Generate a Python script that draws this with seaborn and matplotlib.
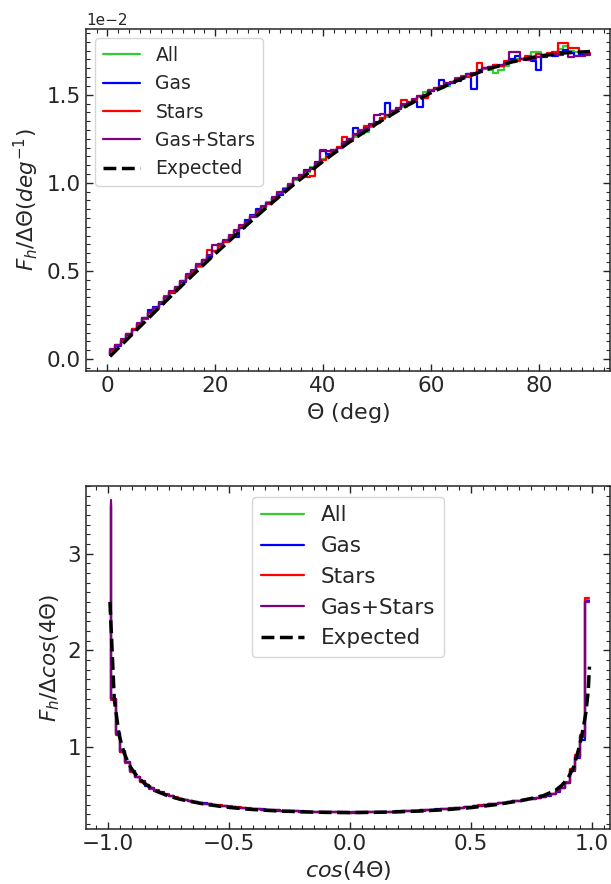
import numpy as np
import pandas as pd
import matplotlib
matplotlib.use("Agg")
import matplotlib.pyplot as plt
import seaborn as sns
from matplotlib.ticker import AutoMinorLocator

sns.set_style("ticks")
plt.rcParams['font.family'] = ['DejaVu Sans']
plt.rcParams['mathtext.fontset'] = 'dejavusans'

# ---------------- data: top panel (units of 1e-2 per degree) ----------------
theta_centers = np.arange(90) + 0.5

theta_all = [0.020, 0.045, 0.078, 0.100, 0.140, 0.165, 0.200, 0.232, 0.262, 0.285,
             0.322, 0.345, 0.380, 0.405, 0.440, 0.462, 0.498, 0.520, 0.552, 0.585,
             0.612, 0.645, 0.668, 0.700, 0.725, 0.748, 0.785, 0.810, 0.835, 0.855,
             0.890, 0.910, 0.935, 0.968, 0.985, 1.015, 1.040, 1.060, 1.090, 1.105,
             1.135, 1.160, 1.175, 1.205, 1.220, 1.240, 1.262, 1.275, 1.290, 1.315,
             1.340, 1.360, 1.375, 1.395, 1.420, 1.430, 1.450, 1.470, 1.485, 1.515,
             1.525, 1.530, 1.540, 1.550, 1.565, 1.585, 1.600, 1.605, 1.620, 1.632,
             1.645, 1.640, 1.625, 1.640, 1.665, 1.690, 1.700, 1.705, 1.715, 1.745,
             1.740, 1.720, 1.725, 1.735, 1.760, 1.775, 1.750, 1.740, 1.735, 1.725]

theta_gas = [0.025, 0.050, 0.075, 0.110, 0.135, 0.170, 0.195, 0.230, 0.280, 0.295,
             0.315, 0.350, 0.375, 0.410, 0.435, 0.470, 0.500, 0.530, 0.560, 0.580,
             0.615, 0.650, 0.672, 0.695, 0.690, 0.745, 0.790, 0.815, 0.850, 0.860,
             0.885, 0.915, 0.930, 0.965, 0.995, 1.020, 1.045, 1.070, 1.085, 1.120,
             1.180, 1.165, 1.180, 1.195, 1.230, 1.250, 1.310, 1.290, 1.300, 1.325,
             1.345, 1.370, 1.455, 1.405, 1.420, 1.440, 1.455, 1.465, 1.430, 1.500,
             1.520, 1.535, 1.585, 1.560, 1.565, 1.580, 1.600, 1.620, 1.530, 1.640,
             1.650, 1.660, 1.670, 1.665, 1.680, 1.700, 1.720, 1.705, 1.700, 1.690,
             1.640, 1.715, 1.730, 1.720, 1.740, 1.755, 1.735, 1.720, 1.725, 1.730]

theta_stars = [0.020, 0.048, 0.080, 0.105, 0.140, 0.170, 0.200, 0.225, 0.262, 0.290,
               0.320, 0.355, 0.382, 0.405, 0.445, 0.470, 0.495, 0.530, 0.560, 0.620,
               0.615, 0.642, 0.665, 0.700, 0.728, 0.755, 0.775, 0.810, 0.830, 0.865,
               0.880, 0.915, 0.945, 0.960, 0.995, 1.020, 1.040, 1.035, 1.040, 1.115,
               1.130, 1.150, 1.185, 1.205, 1.260, 1.240, 1.270, 1.300, 1.320, 1.325,
               1.340, 1.370, 1.385, 1.410, 1.425, 1.470, 1.460, 1.470, 1.490, 1.480,
               1.525, 1.540, 1.545, 1.565, 1.570, 1.595, 1.605, 1.600, 1.610, 1.680,
               1.650, 1.655, 1.670, 1.665, 1.690, 1.685, 1.690, 1.700, 1.720, 1.710,
               1.730, 1.725, 1.735, 1.740, 1.795, 1.795, 1.765, 1.765, 1.740, 1.735]

theta_gasstars = [0.030, 0.055, 0.080, 0.115, 0.140, 0.165, 0.205, 0.230, 0.265, 0.290,
                  0.325, 0.350, 0.385, 0.410, 0.440, 0.480, 0.505, 0.540, 0.560, 0.590,
                  0.645, 0.650, 0.675, 0.705, 0.730, 0.760, 0.780, 0.805, 0.840, 0.870,
                  0.885, 0.920, 0.950, 0.960, 0.990, 1.025, 1.045, 1.065, 1.080, 1.115,
                  1.185, 1.180, 1.185, 1.200, 1.225, 1.250, 1.275, 1.295, 1.310, 1.335,
                  1.385, 1.390, 1.385, 1.410, 1.425, 1.445, 1.455, 1.475, 1.490, 1.500,
                  1.520, 1.540, 1.550, 1.565, 1.570, 1.590, 1.600, 1.615, 1.625, 1.630,
                  1.650, 1.655, 1.660, 1.670, 1.680, 1.745, 1.745, 1.700, 1.695, 1.700,
                  1.715, 1.725, 1.725, 1.730, 1.725, 1.735, 1.715, 1.720, 1.720, 1.725]

theta_exp_x = [0.5, 5, 10, 15, 20, 25, 30, 35, 40, 45, 50, 55, 60, 65, 70, 75, 80, 85, 89.5]
theta_exp_y = [0.015, 0.152, 0.303, 0.452, 0.597, 0.737, 0.873, 1.001, 1.122, 1.234,
               1.337, 1.429, 1.511, 1.582, 1.640, 1.686, 1.719, 1.738, 1.745]

# ---------------- data: bottom panel ----------------
cos_centers = np.linspace(-0.99, 0.99, 100)

cos_all = [3.50, 1.49, 1.13, 0.955, 0.845, 0.745, 0.690, 0.640, 0.600, 0.570,
           0.545, 0.525, 0.505, 0.490, 0.475, 0.460, 0.450, 0.440, 0.430, 0.420,
           0.412, 0.405, 0.398, 0.392, 0.386, 0.380, 0.375, 0.370, 0.365, 0.361,
           0.357, 0.353, 0.350, 0.347, 0.344, 0.341, 0.339, 0.336, 0.334, 0.332,
           0.330, 0.329, 0.327, 0.326, 0.324, 0.323, 0.322, 0.321, 0.320, 0.320,
           0.319, 0.320, 0.320, 0.321, 0.322, 0.323, 0.324, 0.325, 0.327, 0.328,
           0.330, 0.332, 0.334, 0.336, 0.339, 0.341, 0.344, 0.347, 0.350, 0.353,
           0.357, 0.361, 0.365, 0.370, 0.375, 0.380, 0.386, 0.392, 0.398, 0.405,
           0.410, 0.416, 0.422, 0.428, 0.435, 0.442, 0.449, 0.456, 0.464, 0.473,
           0.483, 0.496, 0.514, 0.540, 0.575, 0.630, 0.760, 0.900, 1.110, 2.52]

cos_gas = [3.52, 1.50, 1.14, 0.950, 0.840, 0.750, 0.685, 0.642, 0.598, 0.572,
           0.540, 0.528, 0.503, 0.492, 0.472, 0.462, 0.448, 0.442, 0.428, 0.417,
           0.414, 0.403, 0.399, 0.390, 0.388, 0.378, 0.376, 0.368, 0.366, 0.360,
           0.358, 0.352, 0.351, 0.346, 0.345, 0.340, 0.340, 0.335, 0.335, 0.331,
           0.331, 0.328, 0.328, 0.325, 0.325, 0.322, 0.323, 0.320, 0.321, 0.319,
           0.320, 0.319, 0.321, 0.320, 0.323, 0.322, 0.325, 0.324, 0.328, 0.327,
           0.331, 0.331, 0.335, 0.335, 0.340, 0.340, 0.345, 0.346, 0.351, 0.352,
           0.358, 0.360, 0.366, 0.369, 0.376, 0.379, 0.387, 0.391, 0.399, 0.404,
           0.411, 0.415, 0.423, 0.427, 0.436, 0.441, 0.450, 0.455, 0.465, 0.472,
           0.484, 0.494, 0.516, 0.536, 0.572, 0.625, 0.745, 0.885, 1.070, 2.51]

cos_stars = [3.48, 1.48, 1.12, 0.945, 0.835, 0.740, 0.692, 0.638, 0.602, 0.568,
             0.548, 0.522, 0.507, 0.488, 0.477, 0.458, 0.452, 0.438, 0.432, 0.422,
             0.410, 0.407, 0.396, 0.394, 0.384, 0.382, 0.373, 0.372, 0.363, 0.362,
             0.355, 0.354, 0.348, 0.348, 0.342, 0.342, 0.337, 0.337, 0.332, 0.333,
             0.329, 0.330, 0.326, 0.327, 0.323, 0.324, 0.321, 0.322, 0.319, 0.321,
             0.318, 0.321, 0.319, 0.322, 0.321, 0.324, 0.323, 0.326, 0.326, 0.329,
             0.329, 0.333, 0.333, 0.337, 0.338, 0.342, 0.343, 0.348, 0.349, 0.354,
             0.356, 0.362, 0.364, 0.371, 0.374, 0.381, 0.385, 0.393, 0.397, 0.406,
             0.409, 0.417, 0.421, 0.429, 0.434, 0.443, 0.448, 0.457, 0.463, 0.474,
             0.482, 0.498, 0.512, 0.544, 0.578, 0.638, 0.770, 0.910, 1.125, 2.545]

cos_gasstars = [3.56, 1.49, 1.13, 0.955, 0.845, 0.745, 0.690, 0.641, 0.600, 0.570,
                0.545, 0.525, 0.505, 0.490, 0.475, 0.460, 0.450, 0.440, 0.430, 0.420,
                0.412, 0.405, 0.398, 0.392, 0.386, 0.380, 0.375, 0.370, 0.365, 0.361,
                0.357, 0.353, 0.350, 0.347, 0.344, 0.341, 0.339, 0.336, 0.334, 0.332,
                0.330, 0.329, 0.327, 0.326, 0.324, 0.323, 0.322, 0.321, 0.320, 0.320,
                0.319, 0.320, 0.320, 0.321, 0.322, 0.323, 0.324, 0.325, 0.327, 0.328,
                0.330, 0.332, 0.334, 0.336, 0.339, 0.341, 0.344, 0.347, 0.350, 0.353,
                0.357, 0.361, 0.365, 0.370, 0.375, 0.380, 0.386, 0.392, 0.398, 0.405,
                0.410, 0.416, 0.422, 0.428, 0.435, 0.442, 0.449, 0.456, 0.464, 0.473,
                0.483, 0.496, 0.514, 0.540, 0.575, 0.630, 0.755, 0.895, 1.100, 2.50]

cos_exp_x = [-0.993, -0.975, -0.955, -0.935, -0.915, -0.895, -0.875, -0.85, -0.80, -0.75,
             -0.70, -0.60, -0.50, -0.40, -0.30, -0.20, -0.10, 0.0, 0.10, 0.20,
             0.30, 0.40, 0.50, 0.60, 0.70, 0.75, 0.80, 0.85, 0.875, 0.90,
             0.925, 0.95, 0.965, 0.975, 0.985, 0.99]
cos_exp_y = [2.50, 1.49, 1.12, 0.94, 0.82, 0.74, 0.68, 0.62, 0.54, 0.49,
             0.455, 0.405, 0.372, 0.350, 0.336, 0.327, 0.321, 0.319, 0.321, 0.327,
             0.336, 0.350, 0.370, 0.400, 0.440, 0.465, 0.495, 0.55, 0.60, 0.67,
             0.79, 1.02, 1.20, 1.35, 1.58, 1.83]

series_names = ["All", "Gas", "Stars", "Gas+Stars"]
series_colors = ["limegreen", "blue", "red", "purple"]

# ---------------- figure ----------------
fig = plt.figure(figsize=(6.11, 8.84), dpi=100)
ax1 = fig.add_axes([86 / 611, 1 - 371 / 884, 524 / 611, 342 / 884])
ax2 = fig.add_axes([86 / 611, 1 - 829 / 884, 524 / 611, 343 / 884])

top_series = [theta_all, theta_gas, theta_stars, theta_gasstars]
for name, vals, col in zip(series_names, top_series, series_colors):
    sns.lineplot(x=theta_centers, y=np.asarray(vals) * 1e-2, ax=ax1, color=col,
                 lw=1.6, drawstyle="steps-pre", estimator=None, label=name)
sns.lineplot(x=theta_exp_x, y=np.asarray(theta_exp_y) * 1e-2, ax=ax1, color="black",
             lw=2.5, linestyle="--", estimator=None, label="Expected")

bot_series = [cos_all, cos_gas, cos_stars, cos_gasstars]
for name, vals, col in zip(series_names, bot_series, series_colors):
    sns.lineplot(x=cos_centers, y=vals, ax=ax2, color=col,
                 lw=1.6, drawstyle="steps-pre", estimator=None, label=name)
sns.lineplot(x=cos_exp_x, y=cos_exp_y, ax=ax2, color="black",
             lw=2.5, linestyle="--", estimator=None, label="Expected", sort=False)

ax1.set_xlim(-3.95, 93.2)
ax1.set_ylim(-0.068e-2, 1.873e-2)
ax1.set_xticks([0, 20, 40, 60, 80])
ax1.set_yticks([0, 0.5e-2, 1.0e-2, 1.5e-2])
ax1.ticklabel_format(axis="y", style="sci", scilimits=(0, 0))
ax1.yaxis.get_offset_text().set_fontsize(11)
ax1.set_xlabel(r"$\Theta$ (deg)", fontsize=16)
ax1.set_ylabel(r"$F_h/\Delta\Theta(deg^{-1})$", fontsize=15.5)
ax1.legend(loc="upper left", fontsize=13.5)

ax2.set_xlim(-1.092, 1.075)
ax2.set_ylim(0.149, 3.70)
ax2.set_xticks([-1.0, -0.5, 0.0, 0.5, 1.0])
ax2.set_yticks([1, 2, 3])
ax2.set_xlabel(r"$cos(4\Theta)$", fontsize=16)
ax2.set_ylabel(r"$F_h/\Delta cos(4\Theta)$", fontsize=15.5)
ax2.legend(loc="upper center", fontsize=15.5)

for ax in (ax1, ax2):
    ax.xaxis.set_minor_locator(AutoMinorLocator(10))
    ax.yaxis.set_minor_locator(AutoMinorLocator(10))
    ax.tick_params(which="both", direction="in", top=True, right=True, labelsize=15.5)
    ax.tick_params(which="major", length=5, width=1)
    ax.tick_params(which="minor", length=3, width=0.8)
    for s in ax.spines.values():
        s.set_linewidth(1.1)

fig.savefig("out.png", dpi=100)
